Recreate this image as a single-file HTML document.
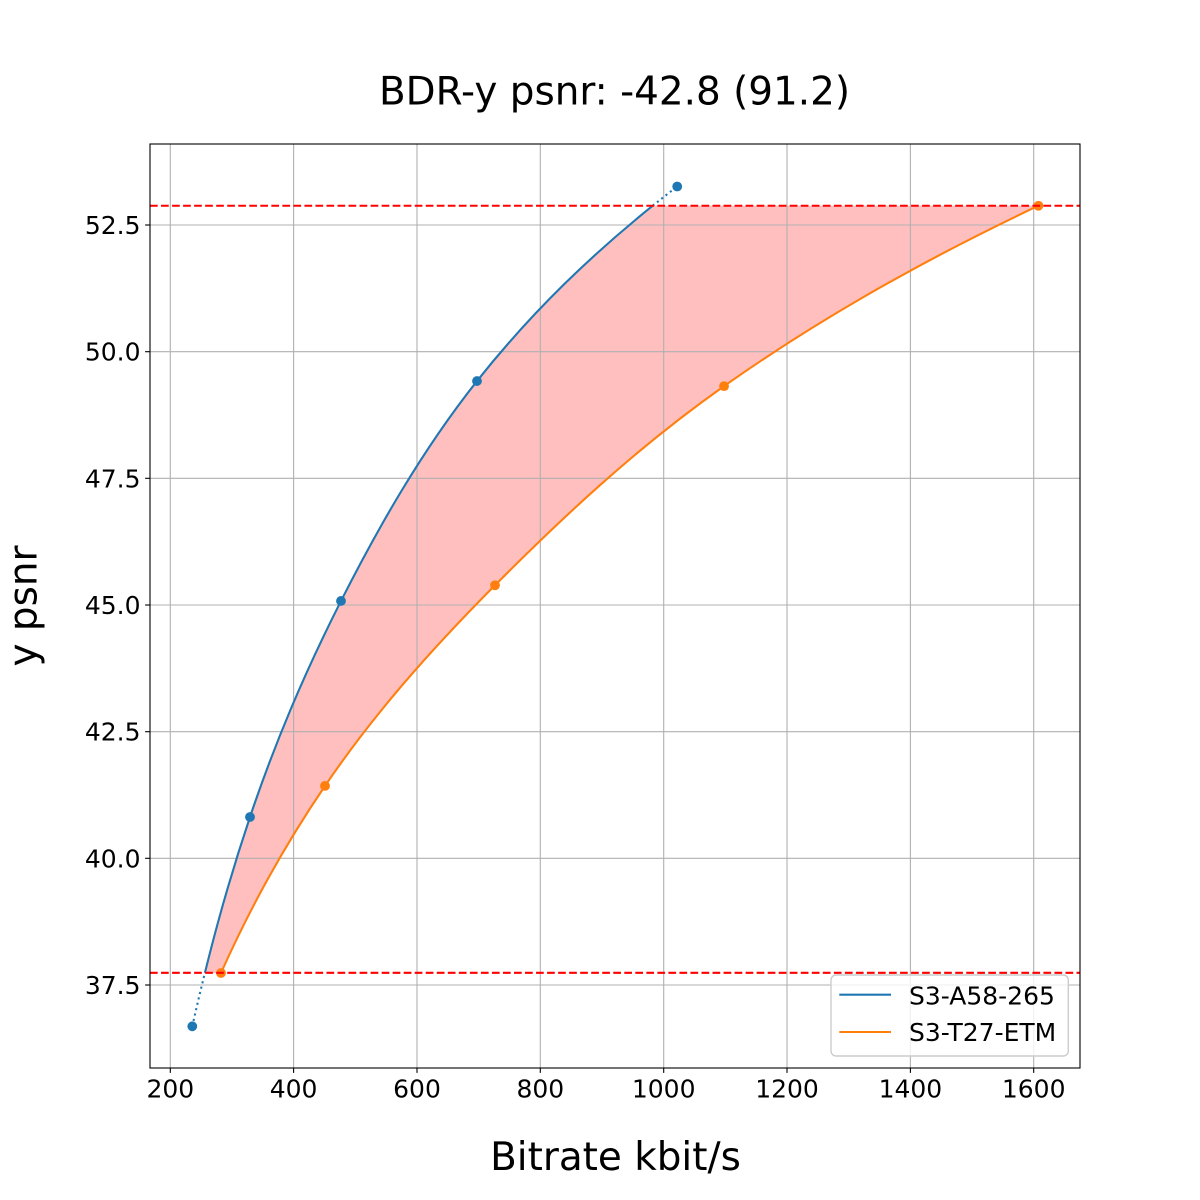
<!DOCTYPE html>
<html>
<head>
<meta charset="utf-8">
<style>
html,body{margin:0;padding:0;background:#fff;}
svg{display:block;}
text{font-family:"DejaVu Sans","Liberation Sans",sans-serif;fill:#000;}
</style>
</head>
<body>
<svg width="1200" height="1200" viewBox="0 0 1200 1200" xmlns="http://www.w3.org/2000/svg">
<rect x="0" y="0" width="1200" height="1200" fill="#fff"/>

<!-- fill between -->
<path d="M204.9,972.84 C209.13,955.77 213.53,938.67 218.2,921.6 C227.74,886.72 238.29,851.88 250,817 C262.08,780.99 275.63,745.01 290.8,709 C305.97,672.99 322.77,636.95 341,600.94 C359.55,564.29 379.29,527.65 401.4,491 C423.51,454.35 447.97,417.7 477,381.05 C502.68,348.62 531.57,316.23 564.6,283.8 C591.09,257.79 620.36,231.75 652.75,205.74 L1038.4,205.74 C974.82,235.8 917.52,265.84 865.5,295.9 C813.48,325.96 766.67,356.06 724.05,386.12 C677.0,419.31 636.67,452.51 599.4,485.7 C562.13,518.89 527.94,552.05 495,585.24 C461.81,618.68 430.43,652.16 401.9,685.6 C373.37,719.04 347.69,752.44 325,785.88 C303.85,817.04 284.83,848.24 267.6,879.4 C250.35,910.61 234.94,941.78 221,972.99 Z" fill="#ffbfbf" stroke="none"/>

<!-- grid -->
<g stroke="#b0b0b0" stroke-width="1.1">
<line x1="170.3" y1="144" x2="170.3" y2="1068"/>
<line x1="293.6" y1="144" x2="293.6" y2="1068"/>
<line x1="417.0" y1="144" x2="417.0" y2="1068"/>
<line x1="540.3" y1="144" x2="540.3" y2="1068"/>
<line x1="663.7" y1="144" x2="663.7" y2="1068"/>
<line x1="787.0" y1="144" x2="787.0" y2="1068"/>
<line x1="910.4" y1="144" x2="910.4" y2="1068"/>
<line x1="1033.7" y1="144" x2="1033.7" y2="1068"/>
<line x1="150" y1="985" x2="1080" y2="985"/>
<line x1="150" y1="858.3" x2="1080" y2="858.3"/>
<line x1="150" y1="731.7" x2="1080" y2="731.7"/>
<line x1="150" y1="605" x2="1080" y2="605"/>
<line x1="150" y1="478.3" x2="1080" y2="478.3"/>
<line x1="150" y1="351.7" x2="1080" y2="351.7"/>
<line x1="150" y1="225" x2="1080" y2="225"/>
</g>

<!-- blue curve -->
<path d="M204.9,972.84 C209.13,955.77 213.53,938.67 218.2,921.6 C227.74,886.72 238.29,851.88 250,817 C262.08,780.99 275.63,745.01 290.8,709 C305.97,672.99 322.77,636.95 341,600.94 C359.55,564.29 379.29,527.65 401.4,491 C423.51,454.35 447.97,417.7 477,381.05 C502.68,348.62 531.57,316.23 564.6,283.8 C591.09,257.79 620.36,231.75 652.75,205.74" fill="none" stroke="#1f77b4" stroke-width="2.08"/>
<path d="M192.3,1026.3 C196.28,1008.48 200.49,990.66 204.9,972.84" fill="none" stroke="#1f77b4" stroke-width="2.08" stroke-dasharray="2.08 3.44"/>
<path d="M652.75,205.74 C660.75,199.32 668.8,192.92 677.2,186.5" fill="none" stroke="#1f77b4" stroke-width="2.08" stroke-dasharray="2.08 3.44"/>

<!-- orange curve -->
<path d="M221,972.99 C234.94,941.78 250.35,910.61 267.6,879.4 C284.83,848.24 303.85,817.04 325,785.88 C347.69,752.44 373.37,719.04 401.9,685.6 C430.43,652.16 461.81,618.68 495,585.24 C527.94,552.05 562.13,518.89 599.4,485.7 C636.67,452.51 677.0,419.31 724.05,386.12 C766.67,356.06 813.48,325.96 865.5,295.9 C917.52,265.84 974.82,235.8 1038.4,205.74" fill="none" stroke="#ff7f0e" stroke-width="2.08"/>

<!-- markers -->
<g fill="#1f77b4">
<circle cx="192.3" cy="1026.3" r="4.9"/>
<circle cx="250" cy="817" r="4.9"/>
<circle cx="341" cy="600.94" r="4.9"/>
<circle cx="477" cy="381.05" r="4.9"/>
<circle cx="677.2" cy="186.5" r="4.9"/>
</g>
<g fill="#ff7f0e">
<circle cx="221" cy="972.99" r="4.9"/>
<circle cx="325" cy="785.88" r="4.9"/>
<circle cx="495" cy="585.24" r="4.9"/>
<circle cx="724.05" cy="386.12" r="4.9"/>
<circle cx="1038.4" cy="205.74" r="4.9"/>
</g>

<!-- red dashed lines -->
<g stroke="#ff0000" stroke-width="2.08" stroke-dasharray="7.7 3.33">
<line x1="150" y1="205.74" x2="1080" y2="205.74"/>
<line x1="150" y1="972.8" x2="1080" y2="972.8"/>
</g>

<!-- spines -->
<rect x="150" y="144" width="930" height="924" fill="none" stroke="#000" stroke-width="1.1"/>

<!-- ticks -->
<g stroke="#000" stroke-width="1.1">
<line x1="170.3" y1="1068" x2="170.3" y2="1072.9"/>
<line x1="293.6" y1="1068" x2="293.6" y2="1072.9"/>
<line x1="417.0" y1="1068" x2="417.0" y2="1072.9"/>
<line x1="540.3" y1="1068" x2="540.3" y2="1072.9"/>
<line x1="663.7" y1="1068" x2="663.7" y2="1072.9"/>
<line x1="787.0" y1="1068" x2="787.0" y2="1072.9"/>
<line x1="910.4" y1="1068" x2="910.4" y2="1072.9"/>
<line x1="1033.7" y1="1068" x2="1033.7" y2="1072.9"/>
<line x1="145.1" y1="985" x2="150" y2="985"/>
<line x1="145.1" y1="858.3" x2="150" y2="858.3"/>
<line x1="145.1" y1="731.7" x2="150" y2="731.7"/>
<line x1="145.1" y1="605" x2="150" y2="605"/>
<line x1="145.1" y1="478.3" x2="150" y2="478.3"/>
<line x1="145.1" y1="351.7" x2="150" y2="351.7"/>
<line x1="145.1" y1="225" x2="150" y2="225"/>
</g>

<!-- tick labels -->
<g font-size="25" text-anchor="middle">
<text x="170.3" y="1097.5">200</text>
<text x="293.6" y="1097.5">400</text>
<text x="417.0" y="1097.5">600</text>
<text x="540.3" y="1097.5">800</text>
<text x="663.7" y="1097.5">1000</text>
<text x="787.0" y="1097.5">1200</text>
<text x="910.4" y="1097.5">1400</text>
<text x="1033.7" y="1097.5">1600</text>
</g>
<g font-size="25" text-anchor="end">
<text x="140.5" y="994">37.5</text>
<text x="140.5" y="867.3">40.0</text>
<text x="140.5" y="740.7">42.5</text>
<text x="140.5" y="614">45.0</text>
<text x="140.5" y="487.3">47.5</text>
<text x="140.5" y="360.7">50.0</text>
<text x="140.5" y="234">52.5</text>
</g>

<!-- title and axis labels -->
<text x="614.5" y="104.3" font-size="38.9" text-anchor="middle">BDR-y psnr: -42.8 (91.2)</text>
<text x="615.5" y="1170" font-size="38.9" text-anchor="middle">Bitrate kbit/s</text>
<text transform="translate(36.3,606) rotate(-90)" x="0" y="0" font-size="38.9" text-anchor="middle">y psnr</text>

<!-- legend -->
<rect x="831" y="975" width="237.3" height="81" rx="5" ry="5" fill="#ffffff" fill-opacity="0.8" stroke="#cccccc" stroke-width="1.39"/>
<line x1="839.3" y1="994.7" x2="891" y2="994.7" stroke="#1f77b4" stroke-width="2.08"/>
<line x1="839.3" y1="1032" x2="891" y2="1032" stroke="#ff7f0e" stroke-width="2.08"/>
<text x="909" y="1004.3" font-size="25">S3-A58-265</text>
<text x="909" y="1041" font-size="25">S3-T27-ETM</text>
</svg>
</body>
</html>
